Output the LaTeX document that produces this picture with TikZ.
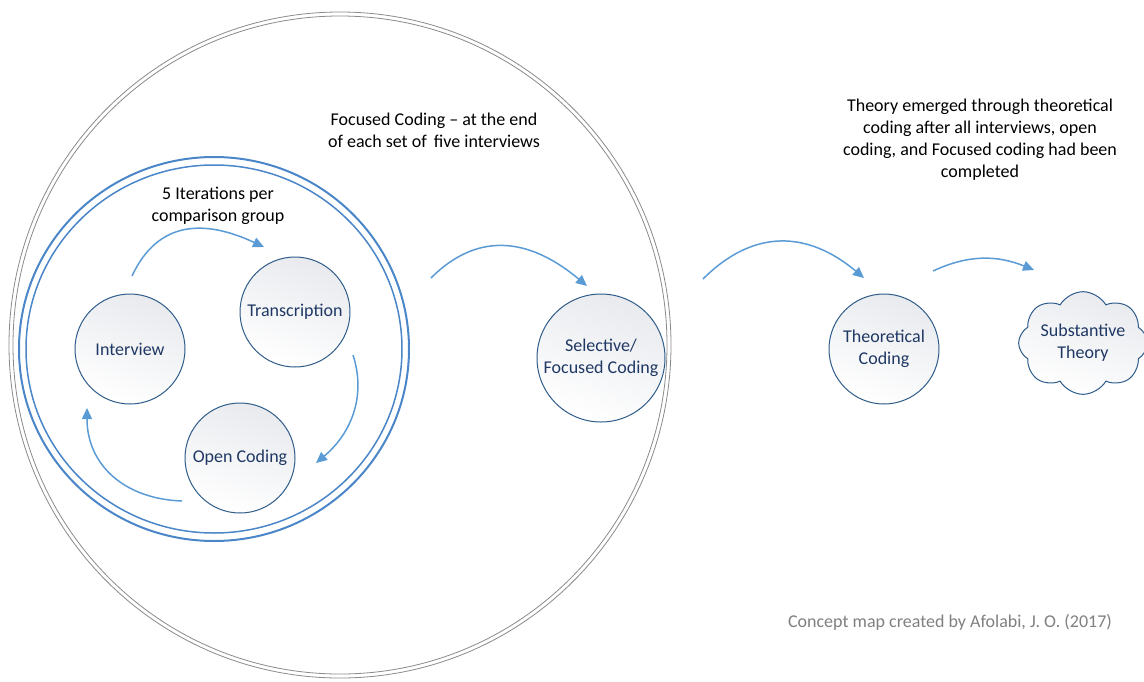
\documentclass[tikz,border=0pt]{standalone}
\usepackage{fontspec}
\setmainfont{Carlito}
\usetikzlibrary{arrows.meta,shapes.symbols}
\definecolor{arrowblue}{HTML}{5B9BD5}
\definecolor{nodeline}{HTML}{2E5C8A}
\definecolor{navy}{HTML}{1F3864}
\definecolor{ringblue}{HTML}{4A86C8}
\definecolor{ringgray}{HTML}{8A8A8A}
\definecolor{shadegray}{HTML}{E8EAEE}
\definecolor{credit}{HTML}{808080}
\begin{document}
\begin{tikzpicture}[x=1pt,y=1pt,
  txt/.style={font=\fontsize{18}{22}\selectfont, align=center, inner sep=0},
  nodeshade/.style={shading=axis, top color=white, bottom color=shadegray, shading angle=160},
  stepnode/.style={circle, draw=nodeline, line width=1pt, nodeshade,
    minimum size=110pt, inner sep=0, text=navy, font=\fontsize{18}{22}\selectfont, align=center},
  flow/.style={draw=arrowblue, line width=1.5pt, -{Triangle[length=11pt,width=10pt]}},
  ring/.style={draw=ringgray, line width=0.8pt}
]
\path[use as bounding box] (0,0) rectangle (1144,-681);

% outer gray double circle
\draw[ring] (340,-345) ellipse [x radius=331, y radius=333];
\draw[ring] (340,-345) ellipse [x radius=327, y radius=329];

% inner blue double ellipse
\draw[draw=ringblue, line width=2pt] (214,-349) ellipse [x radius=195, y radius=192];
\draw[draw=ringblue, line width=1.5pt] (214,-349) ellipse [x radius=188, y radius=184];

% nodes
\node[stepnode] (int) at (130,-349) {Interview};
\node[stepnode] (tra) at (295,-312) {Transcription};
\node[stepnode] (opc) at (240,-458) {Open Coding};
\node[stepnode, minimum size=128pt] (sel) at (601,-358) {Selective/\\Focused Coding};
\node[stepnode] (the) at (884,-349) {Theoretical\\Coding};
\node[cloud, cloud puffs=8, cloud puff arc=120, aspect=1.45, draw=nodeline, line width=1pt,
  nodeshade, minimum width=120pt, minimum height=84pt,
  inner sep=0, text=navy, font=\fontsize{18}{22}\selectfont, align=center] (sub) at (1083,-343) {Substantive\\Theory};

% texts
\node[txt] (focus) at (434,-130) {Focused Coding -- at the end\\of each set of\, five interviews};
\node[txt] (iter) at (218,-206) {5 Iterations per\\comparison group};
\node[txt] (theory) at (980,-140) {Theory emerged through theoretical\\coding after all interviews, open\\coding, and Focused coding had been\\completed};
\node[txt, text=credit] (cred) at (950,-622) {Concept map created by Afolabi, J. O. (2017)};

% connector end points
\coordinate (a1s) at (132,-276);
\coordinate (a1e) at (264,-247);
\coordinate (a2s) at (353,-355);
\coordinate (a2e) at (316,-463);
\coordinate (a3s) at (182,-501);
\coordinate (a3e) at (87,-408);
\coordinate (a4s) at (431,-278);
\coordinate (a4e) at (587,-286);
\coordinate (a5s) at (703,-279);
\coordinate (a5e) at (864,-278);
\coordinate (a6s) at (933,-271);
\coordinate (a6e) at (1034,-270);

\draw[flow] (a1s) to[out=65, in=155, looseness=1.2] (a1e);
\draw[flow] (a2s) to[out=-72, in=40, looseness=1.0] (a2e);
\draw[flow] (a3s) to[out=178, in=-90, looseness=1.1] (a3e);
\draw[flow] (a4s) to[out=45, in=140, looseness=1.15] (a4e);
\draw[flow] (a5s) to[out=45, in=140, looseness=1.15] (a5e);
\draw[flow] (a6s) to[out=25, in=158, looseness=1.0] (a6e);
\end{tikzpicture}
\end{document}
